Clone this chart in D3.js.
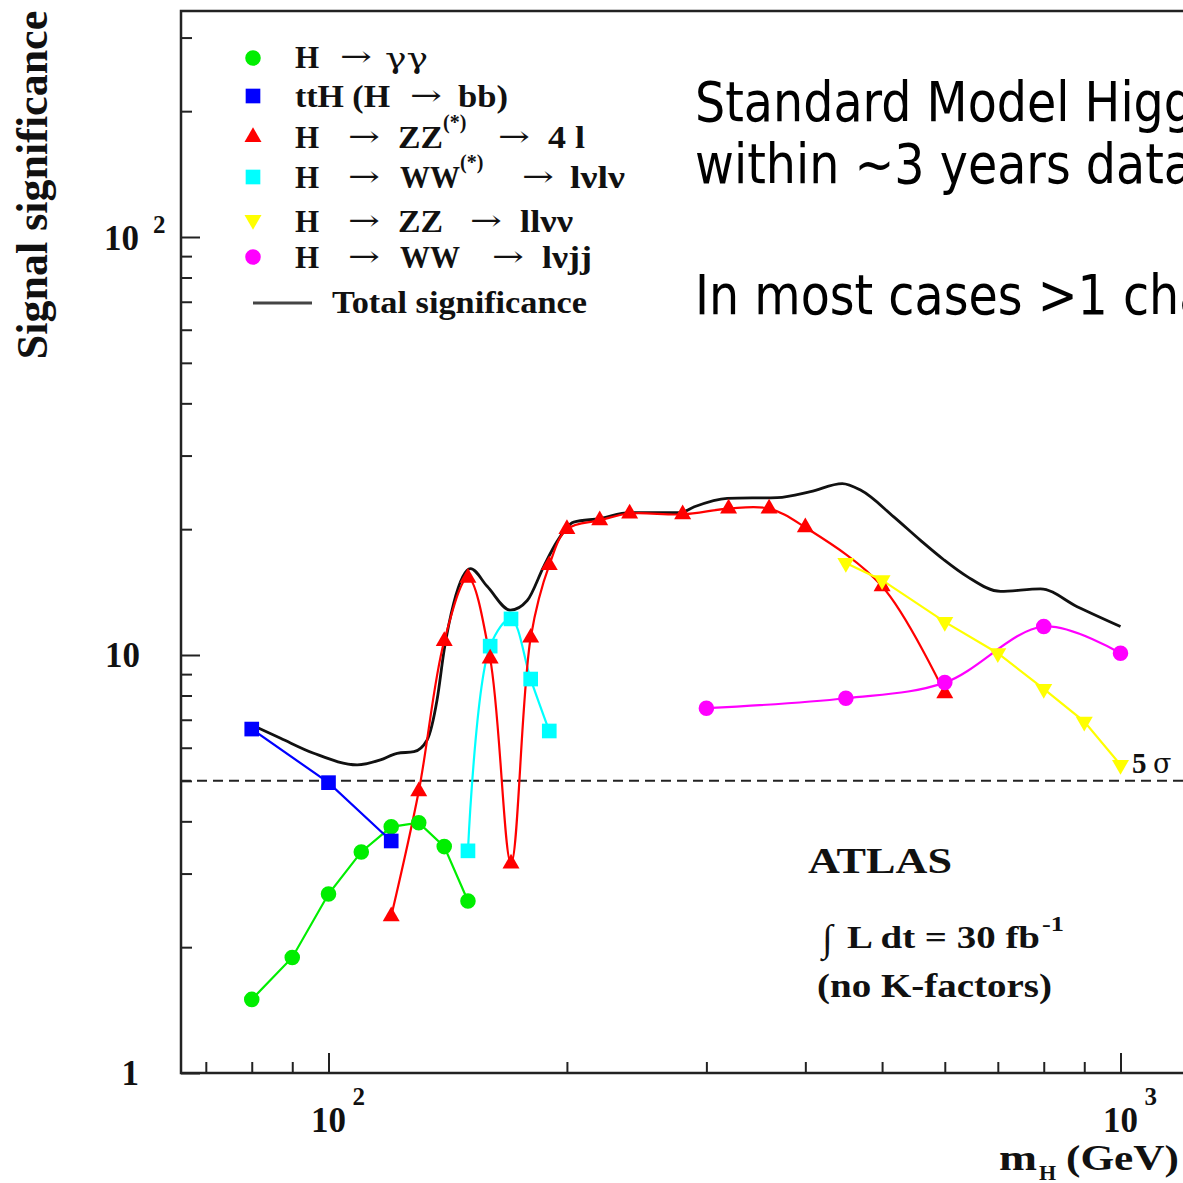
<!DOCTYPE html>
<html><head><meta charset="utf-8">
<script src="https://cdn.jsdelivr.net/npm/d3@7"></script>
<style>
html,body{margin:0;padding:0;background:#fff;overflow:hidden;}
svg{display:block;}
</style></head>
<body>
<svg id="chart" width="1183" height="1183"></svg>
<script>
// ---------------- DATA ----------------
const massGG   = [80, 90, 100, 110, 120, 130, 140, 150];
const sigGG    = [1.5, 1.89, 2.68, 3.38, 3.88, 3.97, 3.48, 2.58];
const massTTH  = [80, 100, 120];
const sigTTH   = [6.65, 4.95, 3.59];
const massZZ4l = [120, 130, 140, 150, 160, 170, 180, 190, 200, 220, 240, 280, 320, 360, 400, 500, 600];
const sigZZ4l  = [2.37, 4.72, 10.8, 15.3, 9.8, 3.17, 11.0, 16.4, 20.0, 21.0, 21.8, 21.7, 22.4, 22.4, 20.2, 14.6, 8.1];
const massWWlvlv = [150, 160, 170, 180, 190];
const sigWWlvlv  = [3.40, 10.5, 12.2, 8.76, 6.58];
const massZZllvv = [450, 500, 600, 700, 800, 900, 1000];
const sigZZllvv  = [16.6, 15.1, 12.0, 10.1, 8.3, 6.93, 5.46];
const massWWlvjj = [300, 450, 600, 800, 1000];
const sigWWlvjj  = [7.46, 7.88, 8.59, 11.7, 10.1];
const massTotal = [80, 87, 95.8, 108.7, 116.3, 122.1, 128.2, 133.2, 137.1, 140, 143.9, 151.1, 158.6, 169.7, 178.2, 187, 194.4, 204, 220, 240, 278, 289.3, 318.7, 368.6, 406.1, 445.3, 469.6, 517.3, 559.1, 598.3, 640.5, 705.6, 792.5, 881.7, 1000];
const sigTotal  = [6.80, 6.32, 5.82, 5.46, 5.61, 5.82, 5.87, 6.26, 7.80, 10.3, 13.3, 16.1, 14.6, 12.8, 13.5, 16.3, 18.7, 20.8, 21.2, 21.9, 21.9, 22.6, 23.7, 23.8, 24.6, 25.7, 24.8, 21.4, 18.8, 16.9, 15.4, 14.2, 14.4, 13.05, 11.7];
const fiveSigma = 5;
const xMajorTicks = [100, 1000];
const xMajorExp = ["2", "3"];
const xMinorTicks = [70, 80, 90, 200, 300, 400, 500, 600, 700, 800, 900];
const yMajorTicks = [1, 10, 100];
const yMinorTicks = [2,3,4,5,6,7,8,9,20,30,40,50,60,70,80,90,200,300];
const noteLines = ["Standard Model Higgs discovery", "within ~3 years data", "In most cases >1 channel"];

// ---------------- SCALES ----------------
const svg = d3.select("#chart");
const X0 = 181, XR = 1230, YB = 1073, YT = 11;
const x = d3.scaleLog().domain([100, 1000]).range([328.5, 1120.5]);
x.domain([x.invert(X0), x.invert(XR)]).range([X0, XR]);
const y = d3.scaleLog().domain([1, 100]).range([YB, 237]);
y.domain([1, y.invert(YT)]).range([YB, YT]);

const serif = "'Liberation Serif','Times New Roman',serif";
const symFont = "'DejaVu Serif',serif";

// ---------------- AXES ----------------
const ax = svg.append("g");
function styleAxis(g){ g.select(".domain").remove(); g.selectAll(".tick line").attr("stroke","#222").attr("stroke-width",2); g.selectAll("text").remove(); }
ax.append("g").attr("transform",`translate(0,${YB})`).call(d3.axisBottom(x).tickValues(xMajorTicks).tickSize(-20)).call(styleAxis);
ax.append("g").attr("transform",`translate(0,${YB})`).call(d3.axisBottom(x).tickValues(xMinorTicks).tickSize(-11)).call(styleAxis);
ax.append("g").attr("transform",`translate(${X0},0)`).call(d3.axisLeft(y).tickValues(yMajorTicks).tickSize(-19)).call(styleAxis);
ax.append("g").attr("transform",`translate(${X0},0)`).call(d3.axisLeft(y).tickValues(yMinorTicks).tickSize(-11)).call(styleAxis);
// frame
ax.append("path").attr("d",`M${XR},${YT}H${X0}V${YB}H${XR}`).attr("fill","none").attr("stroke","#222").attr("stroke-width",2.5);

// tick labels y
yMajorTicks.forEach((v,i)=>{
  const t = svg.append("text").attr("font-family",serif).attr("font-weight","bold").attr("font-size",35).attr("fill","#111");
  if(i===0){ t.attr("x",139).attr("y",y(v)+12).attr("text-anchor","end").text("1"); }
  else if(i===1){ t.attr("x",140).attr("y",y(v)+12).attr("text-anchor","end").text("10"); }
  else {
    t.attr("x",139).attr("y",y(v)+13).attr("text-anchor","end").text("10");
    svg.append("text").attr("font-family",serif).attr("font-weight","bold").attr("font-size",25).attr("fill","#111")
      .attr("x",153).attr("y",y(v)-4).text("2");
  }
});
// tick labels x
xMajorTicks.forEach((v,i)=>{
  svg.append("text").attr("font-family",serif).attr("font-weight","bold").attr("font-size",35).attr("fill","#111")
    .attr("x",x(v)).attr("y",1132).attr("text-anchor","middle").text("10");
  svg.append("text").attr("font-family",serif).attr("font-weight","bold").attr("font-size",25).attr("fill","#111")
    .attr("x",x(v)+24).attr("y",1105).text(xMajorExp[i]);
});
// axis titles
svg.append("text").attr("font-family",serif).attr("font-weight","bold").attr("font-size",44).attr("fill","#111")
  .attr("transform","translate(47,185) rotate(-90)").attr("text-anchor","middle").text("Signal significance");
svg.append("text").attr("font-family",serif).attr("font-weight","bold").attr("font-size",36).attr("fill","#111")
  .attr("x",999).attr("y",1170).attr("textLength",38).attr("lengthAdjust","spacingAndGlyphs").text("m");
svg.append("text").attr("font-family",serif).attr("font-weight","bold").attr("font-size",22).attr("fill","#111")
  .attr("x",1039).attr("y",1180).text("H");
svg.append("text").attr("font-family",serif).attr("font-weight","bold").attr("font-size",36).attr("fill","#111")
  .attr("x",1066).attr("y",1170).attr("textLength",113).attr("lengthAdjust","spacingAndGlyphs").text("(GeV)");

// 5 sigma line
svg.append("line").attr("x1",X0).attr("x2",XR).attr("y1",y(fiveSigma)).attr("y2",y(fiveSigma))
  .attr("stroke","#222").attr("stroke-width",2).attr("stroke-dasharray","10,6");
svg.append("text").attr("font-family",serif).attr("font-weight","bold").attr("font-size",29).attr("fill","#111")
  .attr("x",1132).attr("y",773).text("5");
svg.append("text").attr("font-family",symFont).attr("font-size",27).attr("fill","#111")
  .attr("x",1153).attr("y",773).text("σ");

// ---------------- SERIES ----------------
const series = [
  {m:massGG, s:sigGG, color:"#00ee00", sym:"circle", curve:d3.curveLinear},
  {m:massTTH, s:sigTTH, color:"#0000ff", sym:"square", curve:d3.curveLinear},
  {m:massWWlvlv, s:sigWWlvlv, color:"#00ffff", sym:"square", curve:d3.curveCatmullRom.alpha(0.5)},
  {m:massZZ4l, s:sigZZ4l, color:"#ff0000", sym:"tri", curve:d3.curveCatmullRom.alpha(0.5)},
  {m:massZZllvv, s:sigZZllvv, color:"#ffff00", sym:"itri", curve:d3.curveLinear},
  {m:massWWlvjj, s:sigWWlvjj, color:"#ff00ff", sym:"circle", curve:d3.curveCatmullRom.alpha(0.5)},
];
function symPath(sym){
  if(sym==="circle") return d3.symbol(d3.symbolCircle,190)();
  if(sym==="square") return d3.symbol(d3.symbolSquare,215)();
  return d3.symbol(d3.symbolTriangle,125)();
}
function drawMarker(g, sym, px, py, color){
  g.append("path").attr("d",symPath(sym)).attr("fill",color)
    .attr("transform",`translate(${px},${py})${sym==="itri"?" rotate(180)":""}`);
}
// Total line
const totalPts = massTotal.map((m,i)=>[m, sigTotal[i]]);
svg.append("path").attr("d", d3.line().x(d=>x(d[0])).y(d=>y(d[1])).curve(d3.curveMonotoneX)(totalPts))
  .attr("fill","none").attr("stroke","#111").attr("stroke-width",2.8);

series.forEach(sr=>{
  const pts = sr.m.map((m,i)=>[m, sr.s[i]]);
  svg.append("path").attr("d", d3.line().x(d=>x(d[0])).y(d=>y(d[1])).curve(sr.curve)(pts))
    .attr("fill","none").attr("stroke",sr.color).attr("stroke-width",2.2);
});
series.forEach(sr=>{
  const g = svg.append("g");
  sr.m.forEach((m,i)=>drawMarker(g, sr.sym, x(m), y(sr.s[i]), sr.color));
});

// ---------------- LEGEND ----------------
const lg = svg.append("g");
const legendColors = ["#00ee00","#0000ff","#ff0000","#00ffff","#ffff00","#ff00ff"];
const legendSyms = ["circle","square","tri","square","itri","circle"];
const legendY = [58, 96, 137, 177, 220, 257];
const legendBase = [68, 107, 148, 188, 232, 268];
legendSyms.forEach((s,i)=>drawMarker(lg, s, 253, legendY[i], legendColors[i]));
function lt(txt, px, py, opts={}){
  const t = lg.append("text").attr("x",px).attr("y",py).attr("font-family",opts.font||serif)
    .attr("font-size",opts.size||31).attr("font-weight",opts.normal?"normal":"bold").attr("fill","#111").text(txt);
  if(opts.len) t.attr("textLength",opts.len).attr("lengthAdjust","spacingAndGlyphs");
  return t;
}
function arrow(px, py){ lt("→", px, py, {normal:true, font:symFont, size:28, len:32}); }
// row 1
lt("H",295,legendBase[0]); arrow(340,legendBase[0]-2); lt("γγ",385,legendBase[0],{normal:true,font:symFont,size:28,len:43});
// row 2
lt("ttH (H",295,legendBase[1],{len:95}); arrow(410,legendBase[1]-2); lt("bb)",458,legendBase[1],{len:50});
// row 3
lt("H",295,legendBase[2]); arrow(348,legendBase[2]-2); lt("ZZ",398,legendBase[2],{len:45});
lt("(*)",443,legendBase[2]-19,{size:20}); arrow(498,legendBase[2]-2); lt("4 l",548,legendBase[2],{len:37});
// row 4
lt("H",295,legendBase[3]); arrow(348,legendBase[3]-2); lt("WW",400,legendBase[3],{len:60});
lt("(*)",460,legendBase[3]-19,{size:20}); arrow(522,legendBase[3]-2); lt("lνlν",570,legendBase[3],{len:55});
// row 5
lt("H",295,legendBase[4]); arrow(348,legendBase[4]-2); lt("ZZ",398,legendBase[4],{len:45});
arrow(470,legendBase[4]-2); lt("llνν",520,legendBase[4],{len:53});
// row 6
lt("H",295,legendBase[5]); arrow(348,legendBase[5]-2); lt("WW",400,legendBase[5],{len:60});
arrow(492,legendBase[5]-2); lt("lνjj",542,legendBase[5],{len:50});
// total
lg.append("line").attr("x1",253).attr("x2",312).attr("y1",303).attr("y2",303).attr("stroke","#444").attr("stroke-width",3);
lt("Total significance",332,313,{len:255});

// ---------------- ANNOTATIONS ----------------
function at(txt, px, py, size, len, weight="bold", font=serif){
  const t = svg.append("text").attr("x",px).attr("y",py).attr("font-family",font).attr("font-size",size)
    .attr("font-weight",weight).attr("fill","#111").text(txt);
  if(len) t.attr("textLength",len).attr("lengthAdjust","spacingAndGlyphs");
}
at("ATLAS",808,873,36,144);
at("∫",822,951,38,null,"normal");
at("L dt = 30 fb",847,948,32,193);
at("-1",1042,931,21,22);
at("(no K-factors)",817,997,33,235);

// slide note text
const sans = "'DejaVu Sans','Verdana',sans-serif";
const noteBase = [121, 183, 314];
noteLines.forEach((l,i)=>{
  svg.append("text").attr("transform",`translate(695,${noteBase[i]}) scale(0.85,1)`)
    .attr("font-family",sans).attr("font-size",56).attr("fill","#000").text(l);
});
</script>
</body></html>
